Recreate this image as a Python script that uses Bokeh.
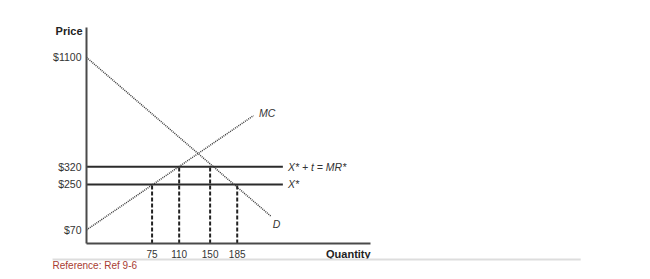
from bokeh.plotting import figure
from bokeh.models import Range1d, FixedTicker
from bokeh.core.properties import value
from bokeh.embed import file_html
from bokeh.resources import INLINE

# ---------------- data ----------------
quantities = [75, 110, 150, 185]            # x tick values
price_ticks = [70, 250, 320, 1100]          # y tick values
price_tick_labels = ["$70", "$250", "$320", "$1100"]
tax_price = 320                             # X* + t = MR*
world_price = 250                           # X*
dash_quantities = [75, 110, 150, 185]
dash_prices = [250, 320, 320, 250]
mc_start_price = 70
mc_end_q, mc_end_p = 206, 522
d_start_price = 1100
d_end_q, d_end_p = 229, 123
hline_end_q = 244

# ---------------- schematic axes (upper part of price axis compressed) ----------------
Q_AXIS, Q_END = -9.7, 357.4        # quantity extent of the drawn axis
P_AXIS, P_TOP = 16.4, 870.5        # price-level extent of the drawn axis
BREAK, COMPRESS = 600, 0.304


def lvl(p):
    return p if p <= BREAK else BREAK + (p - BREAK) * COMPRESS


tick_levels = [int(round(lvl(v))) for v in price_ticks]
FONT = "Liberation Sans"
INK = "#333333"

p = figure(width=650, height=279, output_backend="svg", toolbar_location=None,
           x_range=Range1d(-120.85, 719.0), y_range=Range1d(-126.0, 977.2),
           min_border=0, min_border_left=0, min_border_right=0,
           min_border_top=0, min_border_bottom=0)
p.outline_line_color = None
p.grid.visible = False
p.background_fill_color = "white"
p.border_fill_color = "white"

xa, ya = p.xaxis[0], p.yaxis[0]
for ax in (xa, ya):
    ax.axis_line_width = 2
    ax.axis_line_color = "#4a4a4a"
    ax.major_tick_line_color = None
    ax.minor_tick_line_color = None
    ax.major_tick_out = 0
    ax.major_tick_in = 0
    ax.major_label_text_font = FONT
    ax.major_label_text_color = INK

xa.fixed_location = P_AXIS
xa.bounds = (Q_AXIS, Q_END)
xa.ticker = FixedTicker(ticks=quantities)
xa.major_label_text_font_size = "10px"
xa.major_label_standoff = 7

ya.fixed_location = Q_AXIS
ya.bounds = (P_AXIS, P_TOP)
ya.ticker = FixedTicker(ticks=tick_levels)
ya.major_label_overrides = {t: s for t, s in zip(tick_levels, price_tick_labels)}
ya.major_label_text_font_size = "10.5px"
ya.major_label_standoff = 5

# price lines
p.segment(x0=[Q_AXIS, Q_AXIS], y0=[tax_price, world_price],
          x1=[hline_end_q, hline_end_q], y1=[tax_price, world_price],
          line_color="#2b2b2b", line_width=2)

# dashed drop lines
p.segment(x0=dash_quantities, y0=[P_AXIS] * len(dash_quantities),
          x1=dash_quantities, y1=dash_prices,
          line_color="#222222", line_width=2, line_dash="4 2")

# MC and D
p.line([Q_AXIS, mc_end_q], [lvl(mc_start_price), lvl(mc_end_p)],
       line_color="#3a3a3a", line_width=1.5, line_dash="1 1")
p.line([Q_AXIS, d_end_q], [lvl(d_start_price), lvl(d_end_p)],
       line_color="#3a3a3a", line_width=1.5, line_dash="1 1")

# curve labels
italic = dict(text_font=value(FONT), text_font_style="italic", text_font_size="10.5px",
              text_color=INK, text_align="left", text_baseline="middle")
p.text(x=[mc_end_q + 7], y=[lvl(mc_end_p) + 12], text=["MC"], **italic)
p.text(x=[d_end_q + 2], y=[lvl(d_end_p) - 30], text=["D"], **italic)
p.text(x=[hline_end_q + 6.5, hline_end_q + 6.5], y=[tax_price, world_price],
       text=["X* + t = MR*", "X*"], **italic)

# axis titles
bold = dict(text_font=value(FONT), text_font_style="bold", text_font_size="11px",
            text_color="#222222", text_align="right", text_baseline="middle")
p.text(x=[Q_AXIS], y=[857], text=["Price"], x_offset=-4, **bold)
p.text(x=[Q_END], y=[-25], text=["Quantity"], **bold)

# footer rule and reference note
p.segment(x0=[-53.6], y0=[-47], x1=[628.8], y1=[-47], line_color="#dddddd", line_width=2)
p.text(x=[-53.6], y=[-71], text=["Reference: Ref 9-6"], text_font=value(FONT),
       text_font_size="10px", text_color="#a83c32", text_align="left",
       text_baseline="middle")

open("out.html", "w").write(file_html(p, INLINE))
